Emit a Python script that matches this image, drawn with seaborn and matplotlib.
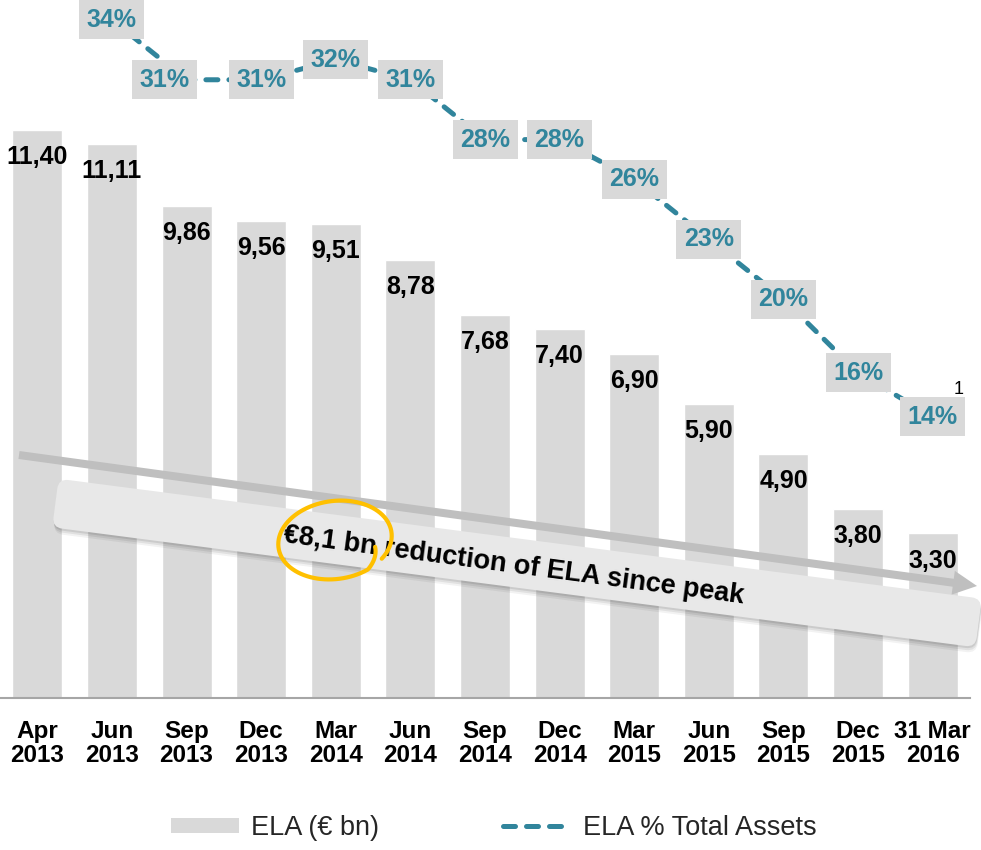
import numpy as np
import pandas as pd
import matplotlib
matplotlib.use("Agg")
import matplotlib.pyplot as plt
import seaborn as sns
from matplotlib import transforms as mtransforms
from matplotlib.patches import FancyBboxPatch, FancyArrow, Patch
from matplotlib.lines import Line2D

# ---------------- data ----------------
categories = ["Apr\n2013", "Jun\n2013", "Sep\n2013", "Dec\n2013", "Mar\n2014", "Jun\n2014",
              "Sep\n2014", "Dec\n2014", "Mar\n2015", "Jun\n2015", "Sep\n2015", "Dec\n2015",
              "31 Mar\n2016"]
ela_bn = [11.40, 11.11, 9.86, 9.56, 9.51, 8.78, 7.68, 7.40, 6.90, 5.90, 4.90, 3.80, 3.30]

pct_categories = categories[1:]
pct_total_assets = [34, 31, 31, 32, 31, 28, 28, 26, 23, 20, 16.3, 14.1]

bar_legend = "ELA (€ bn)"
line_legend = "ELA % Total Assets"
callout_text = "€8,1 bn reduction of ELA since peak"
footnote_mark = "1"

# ---------------- style ----------------
sns.set_theme(style="white")
plt.rcParams["font.family"] = ["Liberation Sans", "DejaVu Sans"]

BAR = "#d9d9d9"
TEAL = "#31859c"
W, H = 981, 850

fig = plt.figure(figsize=(W / 100, H / 100), dpi=100)
ax = fig.add_axes([0, 1 - 698 / H, 970 / W, 698 / H])

df = pd.DataFrame({"period": categories, "ela": ela_bn})
sns.barplot(data=df, x="period", y="ela", color=BAR, saturation=1, width=0.67, ax=ax, zorder=1)
ax.set_ylim(0, 14.0)
ax.set_xlim(-0.5, len(categories) - 0.5)
ax.set_xlabel("")
ax.set_ylabel("")
ax.set_yticks([])
for s in ["top", "left", "right"]:
    ax.spines[s].set_visible(False)
ax.spines["bottom"].set_color("#a6a6a6")
ax.spines["bottom"].set_linewidth(1.5)
ax.tick_params(axis="x", length=0, pad=16, labelsize=17.5)
for lab in ax.get_xticklabels():
    lab.set_fontweight("bold")
    lab.set_color("black")
    lab.set_linespacing(1.02)

for i, v in enumerate(ela_bn):
    ax.annotate(f"{v:.2f}".replace(".", ","), (i, v), xytext=(0, -19.5),
                textcoords="offset points", ha="center", va="center",
                fontsize=18, fontweight="bold", color="black", zorder=6)

# secondary axis for % line
ax2 = ax.twinx()
xpos = [categories.index(c) for c in pct_categories]
ldf = pd.DataFrame({"x": xpos, "pct": pct_total_assets})
sns.lineplot(data=ldf, x="x", y="pct", ax=ax2, color=TEAL, linewidth=3.6, zorder=2)
ln = ax2.lines[0]
ln.set_dashes((2.4, 2.2))
ln.set_dash_capstyle("round")
ax2.set_ylim(0, 35.0)
ax2.set_xlim(-0.5, len(categories) - 0.5)
ax2.set_yticks([])
ax2.set_ylabel("")
ax2.set_xlabel("")
for s in ax2.spines.values():
    s.set_visible(False)

label_dx = {2: -16}
for x, v in zip(xpos, pct_total_assets):
    ax2.annotate(f"{v:.0f}%", (x, v), xytext=(label_dx.get(x, 0), 0),
                 textcoords="offset points", ha="center", va="center",
                 fontsize=18, fontweight="bold", color=TEAL, zorder=5,
                 bbox=dict(boxstyle="square,pad=0.3", fc=BAR, ec="none"))

# footnote mark
fig.text(959 / W, 1 - 390 / H, footnote_mark, ha="center", va="center", fontsize=13, color="black")

# ---------------- callout (pixel coordinates, y from bottom) ----------------
pxT = mtransforms.Affine2D().scale(1 / W, 1 / H) + fig.transFigure

# gray trend arrow
x0, y0 = 19, H - 455
x1, y1 = 977, H - 586
arr = FancyArrow(x0, y0, x1 - x0, y1 - y0, width=8, head_width=24, head_length=24,
                 length_includes_head=True, color="#bfbfbf", ec="none", transform=pxT, zorder=3)
fig.add_artist(arr)

# rotated rounded box with shadow
cx, cy = 517, H - 563
L, h = 931, 49
ang = -7.4
rot = mtransforms.Affine2D().rotate_deg_around(cx, cy, ang)
for k, a in [(6, 0.05), (4, 0.07), (2, 0.09)]:
    sh = FancyBboxPatch((cx - L / 2 + k * 0.3, cy - h / 2 - k), L, h,
                        boxstyle="round,pad=0,rounding_size=10", fc="black", ec="none",
                        alpha=a, transform=rot + pxT, zorder=3)
    fig.add_artist(sh)
box = FancyBboxPatch((cx - L / 2, cy - h / 2), L, h, boxstyle="round,pad=0,rounding_size=10",
                     fc="#e8e8e8", ec="none", transform=rot + pxT, zorder=3)
fig.add_artist(box)

fig.text(514 / W, 1 - 566 / H, callout_text, ha="center", va="center", rotation=-7.6,
         rotation_mode="anchor", fontsize=19.5, fontweight="bold", color="black", zorder=4)

# orange hand-drawn circle
ecx, ecy, ea, eb = 335, H - 540, 57, 39
t = np.deg2rad(np.linspace(-40, 335, 200))
r = np.where(t < np.deg2rad(300), 1.0, 1.0 - 0.25 * (t - np.deg2rad(300)) / np.deg2rad(35))
ex = ecx + ea * r * np.cos(t)
ey = ecy + eb * r * np.sin(t)
circ = Line2D(ex, ey, color="#ffc000", linewidth=3.0, solid_capstyle="round",
              transform=mtransforms.Affine2D().rotate_deg_around(ecx, ecy, 8) + pxT, zorder=5)
fig.add_artist(circ)

# ---------------- legend ----------------
handles = [Patch(facecolor=BAR, edgecolor="none", label=bar_legend),
           Line2D([0], [0], color=TEAL, linewidth=3.6, dashes=(2.4, 2.2),
                  dash_capstyle="round", label=line_legend)]
fig.legend(handles=handles, loc="center", bbox_to_anchor=(494 / W, 1 - 828 / H), ncol=2,
           frameon=False, fontsize=19.5, handlelength=2.5, handleheight=0.5,
           handletextpad=0.45, columnspacing=4.6)

fig.savefig("out.png", dpi=100)
